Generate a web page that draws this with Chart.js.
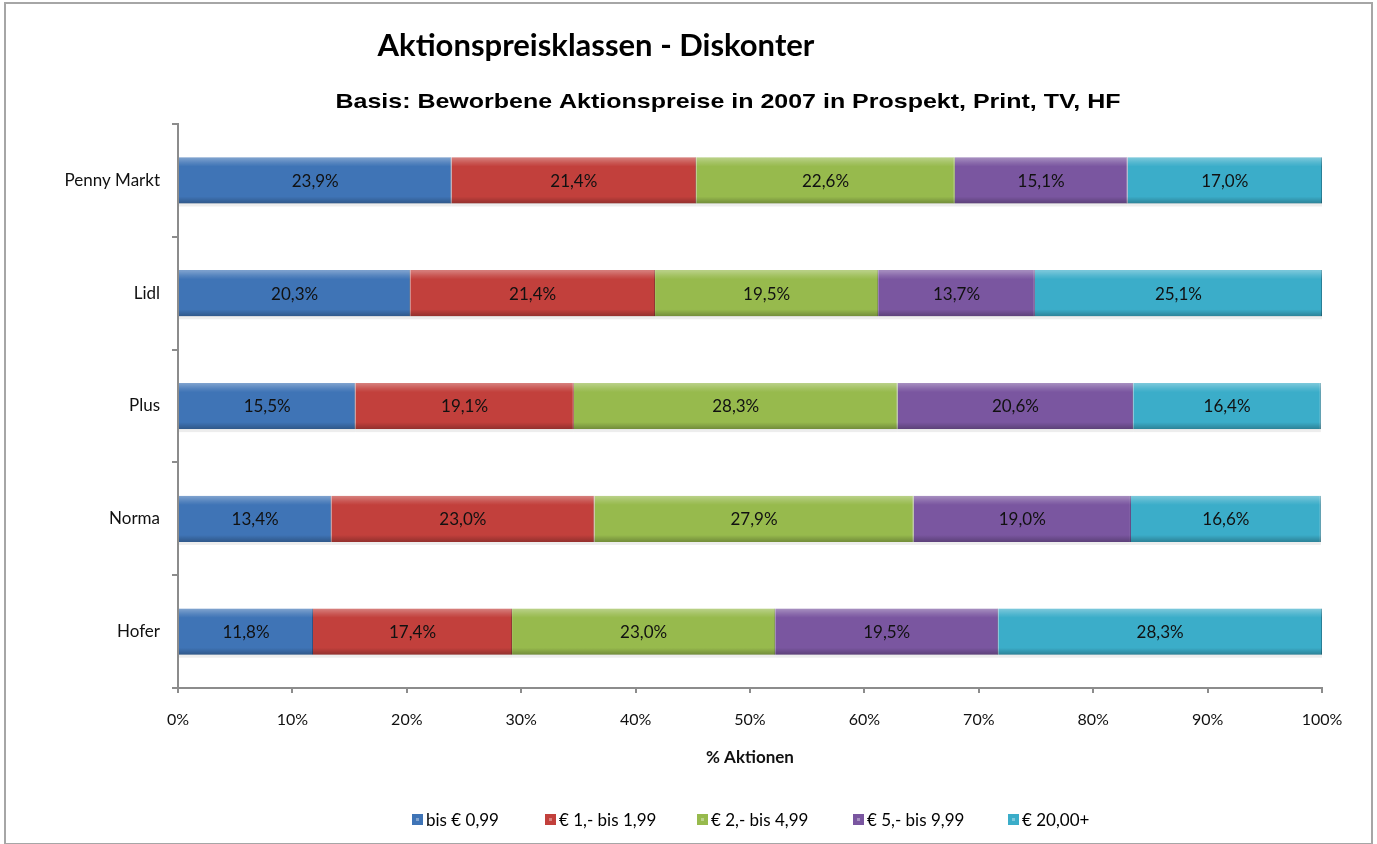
<!DOCTYPE html>
<html>
<head>
<meta charset="utf-8">
<script src="https://cdn.jsdelivr.net/npm/chart.js@4"></script>
<style>
  html, body { margin: 0; padding: 0; background: #fff; }
  #wrap { width: 1377px; height: 844px; position: relative; }
</style>
</head>
<body>
<div id="wrap"><canvas id="chart" width="1377" height="844"></canvas></div>
<script>
// Aktionspreisklassen - Diskonter (100% gestapelt)
const categories = ['Penny Markt', 'Lidl', 'Plus', 'Norma', 'Hofer'];
const seriesLabels = ['bis € 0,99', '€ 1,- bis 1,99', '€ 2,- bis 4,99', '€ 5,- bis 9,99', '€ 20,00+'];
const bis099 = [23.9, 20.3, 15.5, 13.4, 11.8];
const bis199 = [21.4, 21.4, 19.1, 23.0, 17.4];
const bis499 = [22.6, 19.5, 28.3, 27.9, 23.0];
const bis999 = [15.1, 13.7, 20.6, 19.0, 19.5];
const ab2000 = [17.0, 25.1, 16.4, 16.6, 28.3];
const xTicks = [0, 10, 20, 30, 40, 50, 60, 70, 80, 90, 100];

const colors = ['#3f74b6', '#c2403c', '#97ba4d', '#7a56a0', '#3badc9'];
const edges = ['#2c5286', '#8c2d2a', '#6d8a34', '#56397a', '#287f96'];

const FONT = 'Lato, "Open Sans", sans-serif';

const seriesData = [bis099, bis199, bis499, bis999, ab2000];

const fmt = v => v.toFixed(1).replace('.', ',') + '%';

const framePlugin = {
    id: 'frame',
    beforeDraw: function (chart) {
        const ctx = chart.ctx;
        ctx.save();
        ctx.fillStyle = '#fff';
        ctx.fillRect(0, 0, chart.width, chart.height);
        ctx.strokeStyle = '#a6a6a6';
        ctx.lineWidth = 2;
        ctx.strokeRect(5, 3, chart.width - 10, chart.height - 3);
        ctx.restore();
    },
    afterDraw: function (chart) {
        const ctx = chart.ctx;
        ctx.save();
        ctx.fillStyle = '#000';
        ctx.textAlign = 'center';
        ctx.textBaseline = 'middle';
        ctx.font = 'bold 31px ' + FONT;
        ctx.fillText('Aktionspreisklassen - Diskonter', 596, 46);

        // subtitle, slightly stretched like the original
        ctx.save();
        ctx.translate(728, 102);
        ctx.scale(1.19, 1);
        ctx.font = 'bold 21px "Liberation Sans", Arial, sans-serif';
        ctx.fillText('Basis: Beworbene Aktionspreise in 2007 in Prospekt, Print, TV, HF', 0, 0);
        ctx.restore();

        // legend
        ctx.font = '17px ' + FONT;
        ctx.textAlign = 'left';
        const starts = [412, 545, 697, 853, 1008];
        chart.data.datasets.forEach(function (ds, i) {
            const x = starts[i];
            const y = 820;
            ctx.fillStyle = ds.backgroundColor;
            ctx.fillRect(x, y - 6, 11, 11);
            ctx.fillStyle = 'rgba(255,255,255,0.35)';
            ctx.fillRect(x + 4, y - 2, 3, 3);
            ctx.fillStyle = '#000';
            ctx.fillText(ds.label, x + 14, y + 1);
        });
        ctx.restore();
    }
};

const barStylePlugin = {
    id: 'barStyle',
    afterDatasetsDraw: function (chart) {
        const ctx = chart.ctx;
        ctx.save();
        chart.data.datasets.forEach(function (ds, di) {
            const meta = chart.getDatasetMeta(di);
            meta.data.forEach(function (bar, i) {
                const left = Math.min(bar.base, bar.x);
                const right = Math.max(bar.base, bar.x);
                const top = bar.y - bar.height / 2;
                const h = bar.height;
                const g = ctx.createLinearGradient(0, top, 0, top + h);
                g.addColorStop(0, 'rgba(255,255,255,0.35)');
                g.addColorStop(0.12, 'rgba(255,255,255,0.12)');
                g.addColorStop(0.2, 'rgba(255,255,255,0)');
                g.addColorStop(0.85, 'rgba(0,0,0,0)');
                g.addColorStop(1, 'rgba(0,0,0,0.25)');
                ctx.fillStyle = g;
                ctx.fillRect(left, top, right - left, h);
                // soft shadow below
                ctx.fillStyle = 'rgba(0,0,0,0.07)';
                ctx.fillRect(left, top + h, right - left, 3);

                // value label
                ctx.fillStyle = '#111';
                ctx.font = '17px ' + FONT;
                ctx.textAlign = 'center';
                ctx.textBaseline = 'middle';
                ctx.fillText(fmt(ds.data[i]), (left + right) / 2, bar.y + 1);
            });
        });
        ctx.restore();
    }
};

const datasets = seriesData.map(function (values, i) {
    return {
        label: seriesLabels[i],
        data: values,
        backgroundColor: colors[i],
        borderColor: edges[i],
        borderWidth: { left: 0, right: 1, top: 0, bottom: 0 },
        borderSkipped: false,
        barPercentage: 0.41,
        categoryPercentage: 1
    };
});

new Chart(document.getElementById('chart').getContext('2d'), {
    type: 'bar',
    data: { labels: categories, datasets: datasets },
    options: {
        indexAxis: 'y',
        responsive: false,
        animation: false,
        layout: { padding: { top: 124, right: 55, bottom: 56, left: 0 } },
        plugins: {
            legend: { display: false },
            tooltip: { enabled: false },
            title: { display: false }
        },
        scales: {
            x: {
                stacked: true,
                min: 0,
                max: 100,
                afterBuildTicks: function (scale) {
                    scale.ticks = xTicks.map(v => ({ value: v }));
                },
                afterFit: function (scale) { scale.height = 100; },
                grid: { drawOnChartArea: false, tickLength: 5, color: '#8c8c8c', lineWidth: 2 },
                border: { display: true, color: '#8c8c8c', width: 2 },
                ticks: {
                    color: '#111',
                    font: { family: FONT, size: 16 },
                    padding: 17,
                    callback: v => v + '%'
                },
                title: {
                    display: true,
                    text: '% Aktionen',
                    color: '#111',
                    font: { family: FONT, size: 17, weight: 'bold' },
                    padding: { top: 0, bottom: 20 }
                }
            },
            y: {
                stacked: true,
                afterFit: function (scale) { scale.width = 178; },
                grid: { drawOnChartArea: false, tickLength: 6, color: '#8c8c8c', lineWidth: 2 },
                border: { display: true, color: '#8c8c8c', width: 2 },
                ticks: {
                    color: '#111',
                    font: { family: FONT, size: 17 },
                    padding: 12
                }
            }
        }
    },
    plugins: [framePlugin, barStylePlugin]
});
</script>
</body>
</html>
